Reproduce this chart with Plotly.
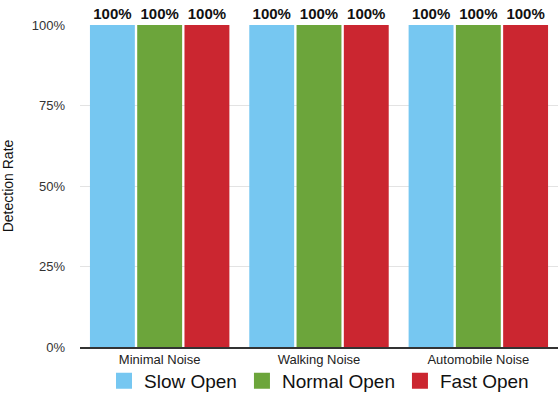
import plotly.graph_objects as go

# Noise conditions and detection rates for each opening speed
categories = ["Minimal Noise", "Walking Noise", "Automobile Noise"]
series_names = ["Slow Open", "Normal Open", "Fast Open"]
slow_open = [100, 100, 100]
normal_open = [100, 100, 100]
fast_open = [100, 100, 100]
y_ticks = [0, 25, 50, 75, 100]

colors = ["#76C7F1", "#6CA53B", "#CB2630"]
values = [slow_open, normal_open, fast_open]
font_family = "Liberation Sans, Arial, sans-serif"

fig = go.Figure()
for name, vals, col in zip(series_names, values, colors):
    fig.add_trace(go.Bar(
        x=categories, y=vals, name=name, showlegend=False,
        marker=dict(color=col, line=dict(width=0)),
        text=[f"{v}%" for v in vals], textposition="outside",
        textfont=dict(family=font_family, size=15, color="#111111"),
        texttemplate="<b>%{text}</b>",
        cliponaxis=False,
    ))

# Legend entries with larger square swatches
for name, col in zip(series_names, colors):
    fig.add_trace(go.Scatter(
        x=[None], y=[None], mode="markers", name=name,
        marker=dict(symbol="square", size=16, color=col),
    ))

fig.update_layout(
    width=558, height=393,
    margin=dict(l=80, r=0, t=25, b=46, autoexpand=False),
    paper_bgcolor="white", plot_bgcolor="white",
    barmode="group", bargap=0.11, bargroupgap=0.05,
    font=dict(family=font_family, color="#222222"),
    showlegend=True,
    legend=dict(orientation="h", x=0.5, xanchor="center", xref="paper",
                y=-0.046, yref="paper", yanchor="top",
                bgcolor="rgba(0,0,0,0)",
                font=dict(size=19, color="#111111"), itemwidth=30,
                traceorder="normal"),
    xaxis=dict(showgrid=False, showline=True, linecolor="#333333", linewidth=1.5,
               tickfont=dict(size=13, color="#222222"), ticks="", ticklabelstandoff=0),
    yaxis=dict(range=[0, 100], tickvals=y_ticks, ticktext=[f"{v}%" for v in y_ticks],
               showgrid=True, gridcolor="#E3E3E3", gridwidth=1, zeroline=False,
               tickfont=dict(size=13, color="#333333"), ticks="", ticklabelstandoff=14,
               title=dict(text="Detection Rate", font=dict(size=14, color="#111111"), standoff=16)),
)

fig.write_html("out.html")
